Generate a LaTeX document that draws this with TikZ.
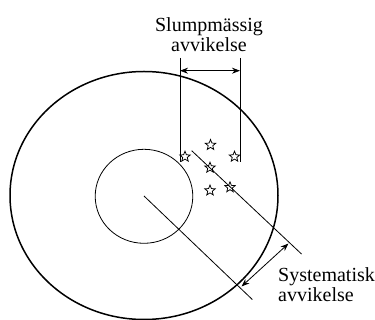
\documentclass[tikz,border=0pt]{standalone}
\usepackage{fontspec}
\setmainfont{Liberation Serif}
\usetikzlibrary{arrows.meta,shapes.geometric}
\begin{document}
\begin{tikzpicture}[x=1pt,y=-1pt,
  thin line/.style={line width=0.8pt},
  thick line/.style={line width=1.5pt},
  starmark/.style={star, star points=5, star point ratio=2.3, draw, line width=0.75pt, minimum size=11pt, inner sep=0pt},
  dblarrow/.style={thin line, {Stealth[length=8pt,width=6pt]}-{Stealth[length=8pt,width=6pt]}},
  label/.style={font=\fontsize{20}{20.5}\selectfont, inner sep=0pt}
]
\useasboundingbox (0,0) rectangle (375,320);
% circles
\draw[thick line] (144,195.5) ellipse [x radius=134, y radius=124];
\draw[thin line] (144,196.3) ellipse [x radius=48.8, y radius=47];
% coordinates
\coordinate (c) at (144,196);
\coordinate (l1end) at (252.3,299.5);
\coordinate (l2start) at (191.7,150.7);
\coordinate (l2end) at (301.5,254);
\coordinate (vlt) at (180,58);
\coordinate (vlb) at (180,162);
\coordinate (vrt) at (240,58);
\coordinate (vrb) at (240,162);
\coordinate (ha) at (180,70.7);
\coordinate (hb) at (240,70.7);
\coordinate (sa) at (241.5,286.5);
\coordinate (sb) at (288.5,243.5);
% lines
\draw[thin line] (c) -- (l1end);
\draw[thin line] (l2start) -- (l2end);
\draw[thin line] (vlt) -- (vlb);
\draw[thin line] (vrt) -- (vrb);
\draw[dblarrow] (ha) -- (hb);
\draw[dblarrow] (sa) -- (sb);
% stars
\node[starmark] (s1) at (185,156.7) {};
\node[starmark] (s2) at (210.5,145) {};
\node[starmark] (s3) at (234.5,156.7) {};
\node[starmark] (s4) at (210,167.7) {};
\node[starmark] (s5) at (210,190.5) {};
\node[starmark] (s6) at (230,187.3) {};
% labels
\node[label, align=center, anchor=base] (slump) at (209,51.7) {Slumpmässig\\avvikelse};
\node[label, align=left, anchor=base west] (syst) at (278,301.7) {Systematisk\\avvikelse};
\end{tikzpicture}
\end{document}
